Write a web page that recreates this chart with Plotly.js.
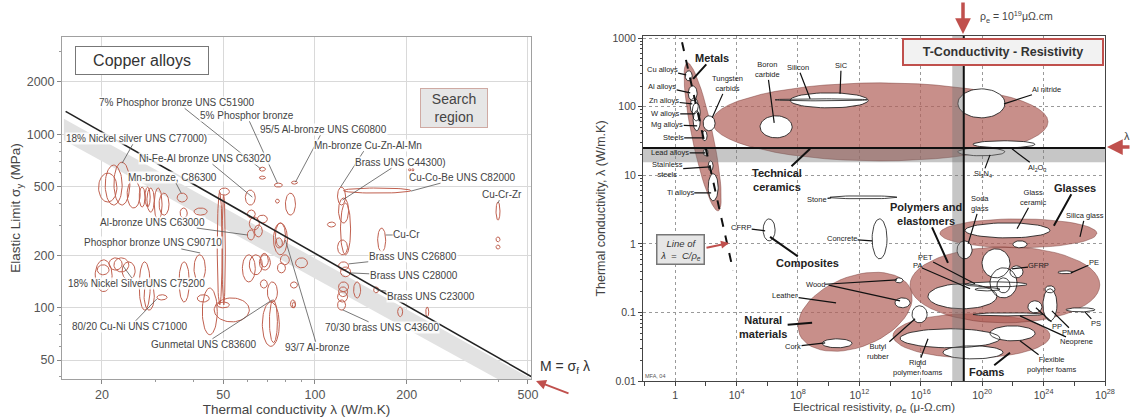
<!DOCTYPE html>
<html><head><meta charset="utf-8">
<script src="https://cdn.plot.ly/plotly-3.0.1.min.js"></script>
<style>html,body{margin:0;padding:0;background:#fff}#chart{width:1131px;height:418px}</style>
</head><body><div id="chart"></div>
<script>
// ---------------- LEFT: Copper alloys (elastic limit vs thermal conductivity) ----------------
// alloy bubbles: thermal conductivity range (W/m.K) and elastic limit range (MPa)
const cuLam0 = [19.5,20.5,21.9,24.2,26.5,27.7,28.1,29.7,30.8,35.3,36.1,40.1,48.5,47.8,49.6,59.1,65.7,65.7,73.6,83.7,74.2,80.0,60.0,64.7,60.9,60.0,63.3,74.2,74.2,40.1,19.0,19.3,21.1,21.9,23.3,26.5,27.5,30.3,35.8,41.1,42.7,47.8,46.7,57.8,60.9,65.7,75.3,77.0,66.2,69.8,67.2,70.9,84.3,118.6,119.5,121.3,118.6,124.1,203,208,392.7,392.7,392.7,160.6,109.9,86.3,83.1,83.1,119.5,121.3,119.5,119.5,118.6,118.6,133.9,155.8,186.8,231,73.1,66.2];
const cuLam1 = [22.4,23.3,24.7,26.7,27.7,28.8,29.7,31.5,33.2,38.1,38.1,44.3,52.4,49.6,50.8,63.7,68.8,68.8,78.2,87.6,76.4,86.3,63.7,69.8,65.7,63.3,67.2,80.0,78.2,43.7,21.6,21.1,23.3,24.5,25.7,28.8,29.7,32.7,38.7,45.0,47.8,52.4,60.9,63.7,67.2,71.4,80.0,82.4,69.8,75.3,76.4,75.3,86.3,126.0,128.9,130.9,127.9,206.2,206,211,404.7,404.7,404.7,170.6,116.8,94.5,87.6,86.3,128.9,130.9,128.9,127.9,127.9,126.0,141.2,161.8,194.0,236.3,81.2,70.3];
const cuSig0 = [407,391,391,376,381,381,356,320,342,407,329,342,446,104,104,391,613,551,496,516,401,342,329,308,281,246,256,224,221,141,124,155,165,161,145,97,97,111,108,108,70,100,83,141,155,165,159,177,130,108,60,63,100,391,308,202,202,458,612,612,320,240,218,210,292,170,130,100,165,151,124,116,108,97,114,122,89,89,202,172];
const cuSig1 = [597,664,690,544,496,496,490,490,458,458,376,376,490,464,446,477,646,574,523,537,423,458,366,342,333,281,300,308,253,202,189,177,194,194,184,184,141,119,184,119,130,108,114,202,202,202,181,202,145,141,108,111,108,496,429,401,246,490,638,638,407,256,230,288,312,194,141,111,184,172,141,132,124,111,141,132,101,101,308,206];
// performance index line M = sigma_f * lambda
const mIndex = 20600;
const mLineLam = [15.2, 512];
// grey search band (conductivity, elastic limit)
const bandLam = [15, 520, 520, 15];
const bandSig = [1230, 38.5, 30, 924];
// labelled alloys
const lText = ['7% Phosphor bronze UNS C51900','5% Phosphor bronze','95/5 Al-bronze UNS C60800','18% Nickel silver UNS C77000)','Mn-bronze Cu-Zn-Al-Mn','Brass UNS C44300)','Ni-Fe-Al bronze UNS C63020','Cu-Co-Be UNS C82000','Cu-Cr-Zr','Mn-bronze, C86300','Al-bronze UNS C63000','Phosphor bronze UNS C90710','18% Nickel SilverUNS C75200','80/20 Cu-Ni UNS C71000','Gunmetal UNS C83600','93/7 Al-bronze','Cu-Cr','Brass UNS C26800','Brass UNS C28000','Brass UNS C23000','70/30 brass UNS C43600'];
const lLabLam = [35.3,59.7,106.7,25.9,148.8,191.1,43.65,305.6,410.8,34.2,29.4,29.4,25.9,24.7,43.0,101.9,200,209.3,210.9,239.9,165.5];
const lLabSig = [1527,1286,1068,948,865,690,728,566,452,566,312,236.4,137.4,77.8,61.3,58.9,262.8,196.4,152.7,115.7,76.7];
const lTgtLam = [66.5,75.3,86.3,23.3,121.3,123.2,62.3,206.2,398.7,36.4,60.0,42.0,23.45,30.3,72.5,80.0,170.6,128.9,130.9,159.4,123.2];
const lTgtSig = [630,523,530,681,496,418,434.5,470,401,458,262.8,207.1,174.3,112.6,111.2,245.9,262.8,179.1,158.9,126.9,97.4];
const lXTicks = [20,50,100,200,500];
const lXMinor = [30,40,60,70,80,90,300,400];
const lYTicks = [50,100,200,500,1000,2000];
const lYMinor = [40,60,70,80,90,300,400,600,700,800,900,3000];

// ---------------- RIGHT: thermal conductivity vs electrical resistivity ----------------
// material family envelopes: centre (log10 rho, log10 lambda) and two conjugate semi-axes (decades)
const famName = ['Technical ceramics','Metals','Natural materials','Foams','Polymers and elastomers','Glasses'];
const famLogRho = [13.35,1.79,11.72,19.30,21.48,22.36];
const famLogLam = [1.778,1.56,-0.991,-1.341,-0.598,0.153];
const famARho = [10.94,-1.01,3.71,5.11,6.18,5.11];
const famALam = [0,1.079,0.160,0,0,0];
const famBRho = [0,0.67,0.326,0,0,0];
const famBLam = [0.569,0.031,0.554,0.321,0.554,0.211];
// individual materials: log10 resistivity range (muOhm.cm) and conductivity range (W/m.K)
const matName = ['Cu alloys','Al alloys','Zn alloys','W alloys','Mg alloys','Steels','Lead alloys','Stainless steels','Ti alloys','Tungsten carbides','Boron carbide','SiC','Silicon','Al nitride','Al2O3','Si3N4','Stone','Concrete','CFRP','Cork','Wood','Wood','Soda glass','Glass ceramic','Silica glass','GFRP','GFRP','GFRP','GFRP','PA','PET','PET','PE','PP','PMMA','PMMA','PS','Neoprene','Butyl rubber','Rigid polymer foams','Flexible polymer foams','Flexible polymer foams'];
const matRho0 = [0.65,0.85,0.98,1.11,1.17,1.76,1.82,2.15,2.15,1.82,5.53,7.49,6.51,18.42,19.40,18.42,10.09,12.83,5.73,9.57,14.32,14.32,18.36,18.88,22.0,19.99,20.51,21.81,20.96,16.47,18.88,19.53,24.93,22.98,23.96,24.09,25.46,19.40,15.43,14.65,17.45,20.51];
const matRho1 = [1.11,1.43,1.50,1.63,1.63,2.08,2.15,2.47,2.80,2.60,7.62,12.57,12.50,21.48,23.44,21.48,14.45,13.80,6.51,11.52,14.84,15.30,19.34,24.41,22.92,21.81,22.27,22.66,21.81,20.96,22.92,21.16,25.91,23.89,24.87,24.74,27.34,23.96,16.41,21.16,21.35,23.44];
const matLam0 = [238,122,78.5,62,44.5,31.8,19.2,11.6,4.24,44.5,35.1,96,121.6,68.7,25.1,19.2,4.53,0.604,1.106,0.0305,0.27,0.117,0.604,1.22,0.875,0.319,0.163,0.319,0.193,0.113,0.236,0.206,0.366,0.0986,0.0753,0.193,0.102,0.0891,0.0705,0.0305,0.0210,0.0385];
const matLam1 = [333,201,134.6,114,87,44.5,24.3,16.2,10.5,73.5,73.5,159,130,181.6,31.8,25.1,5.01,2.31,2.31,0.0412,0.319,0.163,1.106,2.02,1.106,0.845,0.447,0.478,0.319,0.261,0.279,0.229,0.404,0.1476,0.221,0.244,0.117,0.0986,0.125,0.0577,0.0326,0.0637];
// line lambda = C / rho_e
const cLine = 2430;
const cLineRho = [2.8, 6000];
// design limits
const rhoLimit = 10 ** 18.8;
const rhoBand = [10 ** 18.05, 10 ** 18.8];
const lamLimit = 25;
const lamBand = [15.5, 25];
// labels (positions in log10 units of the axes)
const rText = ['Metals','Cu alloys','Al alloys','Zn alloys','W alloys','Mg alloys','Steels','Lead alloys','Stainless<br>steels','Ti alloys','Tungsten<br>carbids','Boron<br>carbide','Silicon','SiC','Technical<br>ceramics','Stone','Al nitride','Al<sub>2</sub>O<sub>3</sub>','Si<sub>3</sub>N<sub>4</sub>','Glasses','Glass<br>ceramic','Soda<br>glass','Silica glass','Polymers and<br>elastomers','PET','PA','GFRP','PE','PP','PMMA','PS','Neoprene','Flexible<br>polymer foams','Foams','Rigid<br>polymer foams','Butyl<br>rubber','Cork','Natural<br>materials','Leather','Wood','Concrete','CFRP','Composites'];
const rBold = [0,14,19,23,33,37,42];
const rLabX = [2.41,-0.85,-0.85,-0.72,-0.65,-0.52,-0.13,-0.33,-0.52,0.33,3.39,5.99,8.01,10.81,6.64,9.24,24.22,23.57,20.05,26.04,23.37,19.86,26.69,16.34,16.28,15.76,23.70,27.28,24.87,25.98,27.41,26.17,24.54,20.25,15.76,13.22,7.68,5.73,7.16,9.11,10.87,4.30,8.59];
const rLabY = [2.711,2.536,2.289,2.085,1.895,1.735,1.545,1.327,1.079,0.743,2.332,2.536,2.566,2.595,0.933,0.641,2.245,1.108,1.020,0.816,0.671,0.583,0.408,0.437,-0.204,-0.321,-0.321,-0.277,-1.210,-1.297,-1.166,-1.429,-1.764,-1.866,-1.808,-1.574,-1.501,-1.210,-0.758,-0.598,0.073,0.233,-0.277];
const rTgtX = [1.17,0.72,0.98,1.11,1.24,1.43,1.82,1.95,2.28,2.34,2.41,6.45,8.79,10.74,8.79,10.16,21.42,21.94,20.51,24.67,22.27,19.08,26.37,17.77,19.53,19.21,21.94,25.78,23.50,24.54,26.69,22.46,22.46,21.81,16.47,15.63,9.77,8.92,10.48,14.45,12.83,5.86,6.18];
const rTgtY = [2.405,2.464,2.201,2.041,1.895,1.720,1.545,1.327,1.122,0.743,1.837,1.764,2.114,2.187,1.385,0.671,2.041,1.385,1.297,0.262,0.219,0,0.102,-0.277,-0.583,-0.656,-0.364,-0.423,-0.933,-0.977,-0.991,-1.050,-1.414,-1.589,-1.385,-1.093,-1.443,-1.152,-0.860,-0.525,0.044,0.190,0.102];
const rXTicks = [0,4,8,12,16,20,24,28];
const rXMinor = [-2,2,6,10,14,18,22,26];
const rYTicks = [0.01,0.1,1,10,100,1000];

// ---------------- helpers ----------------
const N = 56;
function ring(cx, cy, ax, ay, bx, by, xs, ys) {
  for (let i = 0; i <= N; i++) {
    const t = 2 * Math.PI * i / N;
    xs.push(10 ** (cx + ax * Math.cos(t) + bx * Math.sin(t)));
    ys.push(10 ** (cy + ay * Math.cos(t) + by * Math.sin(t)));
  }
  xs.push(null); ys.push(null);
}
function boxRing(lx0, lx1, ly0, ly1, xs, ys) {
  ring((lx0 + lx1) / 2, (ly0 + ly1) / 2, (lx1 - lx0) / 2, 0, 0, (ly1 - ly0) / 2, xs, ys);
}
const L = Math.log10;
const FONT = 'Liberation Sans, Arial, Helvetica, sans-serif';
const traces = [];

// left band
traces.push({x: bandLam, y: bandSig, xaxis: 'x', yaxis: 'y', mode: 'lines', fill: 'toself',
  fillcolor: '#e2e2e2', line: {width: 0}, hoverinfo: 'skip'});
// left bubbles
{
  const xs = [], ys = [];
  for (let i = 0; i < cuLam0.length; i++) boxRing(L(cuLam0[i]), L(cuLam1[i]), L(cuSig0[i]), L(cuSig1[i]), xs, ys);
  traces.push({x: xs, y: ys, xaxis: 'x', yaxis: 'y', mode: 'lines', line: {color: '#c0604f', width: 1}, hoverinfo: 'skip'});
}
// M line
traces.push({x: mLineLam, y: mLineLam.map(v => mIndex / v), xaxis: 'x', yaxis: 'y', mode: 'lines',
  line: {color: '#222', width: 1.6}, hoverinfo: 'skip'});

// right envelopes
for (let i = 0; i < famName.length; i++) {
  const xs = [], ys = [];
  ring(famLogRho[i], famLogLam[i], famARho[i], famALam[i], famBRho[i], famBLam[i], xs, ys);
  traces.push({x: xs, y: ys, xaxis: 'x2', yaxis: 'y2', mode: 'lines', fill: 'toself',
    fillcolor: 'rgba(176,96,88,0.7)', line: {color: 'rgba(110,45,40,0.7)', width: 0.6}, hoverinfo: 'skip', name: famName[i]});
}
// right materials
{
  const xs = [], ys = [];
  for (let i = 0; i < matName.length; i++) boxRing(matRho0[i], matRho1[i], L(matLam0[i]), L(matLam1[i]), xs, ys);
  traces.push({x: xs, y: ys, xaxis: 'x2', yaxis: 'y2', mode: 'lines', fill: 'toself', fillcolor: '#ffffff',
    line: {color: '#111', width: 0.8}, hoverinfo: 'skip'});
}
// grey bands
traces.push({x: [rhoBand[0], rhoBand[1], rhoBand[1], rhoBand[0]], y: [0.001, 0.001, 5000, 5000], xaxis: 'x2', yaxis: 'y2',
  mode: 'lines', fill: 'toself', fillcolor: 'rgba(120,120,120,0.42)', line: {width: 0}, hoverinfo: 'skip'});
traces.push({x: [1e-4, 1e30, 1e30, 1e-4], y: [lamBand[0], lamBand[0], lamBand[1], lamBand[1]], xaxis: 'x2', yaxis: 'y2',
  mode: 'lines', fill: 'toself', fillcolor: 'rgba(120,120,120,0.42)', line: {width: 0}, hoverinfo: 'skip'});
// limit lines
traces.push({x: [rhoLimit, rhoLimit], y: [0.001, 5000], xaxis: 'x2', yaxis: 'y2', mode: 'lines', line: {color: '#111', width: 2}, hoverinfo: 'skip'});
traces.push({x: [1e-4, 1e30], y: [lamLimit, lamLimit], xaxis: 'x2', yaxis: 'y2', mode: 'lines', line: {color: '#111', width: 2}, hoverinfo: 'skip'});
// lambda = C/rho line
traces.push({x: cLineRho, y: cLineRho.map(r => cLine / r), xaxis: 'x2', yaxis: 'y2', mode: 'lines',
  line: {color: '#111', width: 2, dash: 'dash'}, hoverinfo: 'skip'});

// ---------------- annotations ----------------
const ann = [];
const px = v => (v - 62) / 1043, py = v => (381 - v) / 345;
const C = {xanchor: 'center', yanchor: 'middle'};
for (let i = 0; i < lText.length; i++) {
  ann.push({xref: 'x', yref: 'y', axref: 'x', ayref: 'y', x: L(lTgtLam[i]), y: L(lTgtSig[i]), ax: L(lLabLam[i]), ay: L(lLabSig[i]),
    text: lText[i], showarrow: true, arrowhead: 0, arrowwidth: 0.8, arrowcolor: '#555',
    font: {size: 10, color: '#444', family: FONT}, bgcolor: 'rgba(255,255,255,0.85)', borderpad: 0});
}
for (let i = 0; i < rText.length; i++) {
  const b = rBold.includes(i);
  ann.push({xref: 'x2', yref: 'y2', axref: 'x2', ayref: 'y2', x: rTgtX[i], y: rTgtY[i], ax: rLabX[i], ay: rLabY[i],
    text: b ? '<b>' + rText[i] + '</b>' : rText[i], showarrow: true, arrowhead: 0, arrowwidth: b ? 2 : 1.2, arrowcolor: '#111',
    font: {size: b ? 11 : 7.5, color: '#222', family: FONT}, borderpad: 0});
}
// second wood leader
ann.push({xref: 'x2', yref: 'y2', axref: 'x2', ayref: 'y2', x: 14.65, y: -0.831, ax: 9.9, ay: -0.598, text: '', showarrow: true,
  arrowhead: 0, arrowwidth: 1.2, arrowcolor: '#111'});
ann.push(Object.assign({xref: 'paper', yref: 'paper', x: px(141.5), y: py(60.5), text: 'Copper alloys', showarrow: false,
  font: {size: 16, color: '#333', family: FONT}, bgcolor: '#fff', bordercolor: '#777', borderwidth: 1, borderpad: 4, width: 124, height: 19}, C));
ann.push(Object.assign({xref: 'paper', yref: 'paper', x: px(453.5), y: py(107.5), text: 'Search<br>region', showarrow: false,
  font: {size: 14, color: '#444', family: FONT}, bgcolor: '#e6e6e6', bordercolor: '#cfaaa3', borderwidth: 1, borderpad: 2, width: 62}, C));
ann.push(Object.assign({xref: 'paper', yref: 'paper', x: px(565), y: py(367), text: 'M = σ<sub>f</sub> λ', showarrow: false,
  font: {size: 14, color: '#333', family: FONT}}, C));
ann.push({xref: 'paper', yref: 'paper', x: px(536), y: py(381), ax: 34, ay: 13, text: '', showarrow: true,
  arrowhead: 2, arrowsize: 1, arrowwidth: 2, arrowcolor: '#c0504d'});
ann.push(Object.assign({xref: 'paper', yref: 'paper', x: px(1002.5), y: py(52.5), text: '<b>T-Conductivity - Resistivity</b>', showarrow: false,
  font: {size: 12.5, color: '#333', family: FONT}, bgcolor: '#f2f2f2', bordercolor: '#c0504d', borderwidth: 2, borderpad: 3, width: 192, height: 18}, C));
ann.push(Object.assign({xref: 'paper', yref: 'paper', x: px(1016), y: py(17), text: 'ρ<sub>e</sub> = 10<sup>19</sup>μΩ.cm', showarrow: false,
  font: {size: 10.5, color: '#444', family: FONT}}, C));
ann.push({xref: 'paper', yref: 'paper', x: px(963), y: py(34), ax: 0, ay: -33, text: '', showarrow: true,
  arrowhead: 2, arrowsize: 0.9, arrowwidth: 3.5, arrowcolor: '#c0504d'});
ann.push({xref: 'paper', yref: 'paper', x: px(1107), y: py(147), ax: 28, ay: 0, text: '', showarrow: true,
  arrowhead: 2, arrowsize: 0.9, arrowwidth: 3.5, arrowcolor: '#c0504d'});
ann.push(Object.assign({xref: 'paper', yref: 'paper', x: px(1127), y: py(136), text: 'λ', showarrow: false, font: {size: 11, color: '#444', family: FONT}}, C));
ann.push(Object.assign({xref: 'paper', yref: 'paper', x: px(680), y: py(249.5), text: '<i>Line of</i><br><i>λ  =  C/ρ<sub>e</sub></i>', showarrow: false,
  font: {size: 9.5, color: '#333', family: FONT}, bgcolor: '#e6e6e6', bordercolor: '#777', borderwidth: 1.5, borderpad: 2, width: 42}, C));
ann.push({xref: 'paper', yref: 'paper', x: px(729), y: py(243), ax: -24, ay: 5, text: '', showarrow: true,
  arrowhead: 2, arrowsize: 0.8, arrowwidth: 2, arrowcolor: '#c0504d'});
ann.push(Object.assign({xref: 'paper', yref: 'paper', x: px(655), y: py(376), text: 'MFA, 04', showarrow: false, font: {size: 5.5, color: '#555', family: FONT}}, C));

const leftAxisBase = {type: 'log', showline: true, mirror: true, linecolor: '#a0a0a0', gridcolor: '#d9d9d9', zeroline: false,
  ticks: 'outside', ticklen: 4, tickcolor: '#888', tickfont: {size: 12.5, color: '#555', family: FONT}};
const layout = {
  width: 1131, height: 418, margin: {l: 62, r: 26, t: 36, b: 37}, showlegend: false, hovermode: false,
  paper_bgcolor: '#fff', plot_bgcolor: '#fff', font: {family: FONT, color: '#333'},
  xaxis: Object.assign({}, leftAxisBase, {domain: [0, 0.4497], range: [1.17, 2.709], anchor: 'y',
    tickvals: lXTicks, ticktext: lXTicks.map(String),
    minor: {tickvals: lXMinor, ticks: 'outside', ticklen: 2.5, tickcolor: '#999', showgrid: false},
    title: {text: 'Thermal conductivity λ (W/m.K)', font: {size: 13.5, color: '#444', family: FONT}, standoff: 3}}),
  yaxis: Object.assign({}, leftAxisBase, {domain: [0.0058, 0.997], range: [1.59, 3.56], anchor: 'x',
    tickvals: lYTicks, ticktext: lYTicks.map(String),
    minor: {tickvals: lYMinor, ticks: 'outside', ticklen: 2.5, tickcolor: '#999', showgrid: false},
    title: {text: 'Elastic Limit σ<sub>y</sub> (MPa)', font: {size: 13.5, color: '#444', family: FONT}, standoff: 2}}),
  xaxis2: {type: 'log', domain: [0.557, 1], range: [-2.1, 28], anchor: 'y2', showline: true, mirror: true, linecolor: '#444',
    gridcolor: '#9a9a9a', griddash: 'dot', zeroline: false, ticks: 'outside', ticklen: 4, tickcolor: '#444',
    tickvals: rXTicks.map(e => 10 ** e), ticktext: rXTicks.map(e => e === 0 ? '1' : '10<sup>' + e + '</sup>'),
    tickfont: {size: 10.5, color: '#444', family: FONT},
    minor: {tickvals: rXMinor.map(e => 10 ** e), ticks: 'outside', ticklen: 4, tickcolor: '#444', showgrid: false},
    title: {text: 'Electrical resistivity, ρ<sub>e</sub> (μ-Ω.cm)', font: {size: 11.5, color: '#444', family: FONT}, standoff: 2}},
  yaxis2: {type: 'log', domain: [0, 1], range: [-2, 3.03], anchor: 'x2', showline: true, mirror: true, linecolor: '#444',
    gridcolor: '#9a9a9a', griddash: 'dot', zeroline: false, ticks: 'outside', ticklen: 4, tickcolor: '#444',
    tickvals: rYTicks, ticktext: rYTicks.map(String), tickfont: {size: 10.5, color: '#444', family: FONT},
    minor: {tickvals: [0.02,0.03,0.04,0.05,0.06,0.07,0.08,0.09,0.2,0.3,0.4,0.5,0.6,0.7,0.8,0.9,2,3,4,5,6,7,8,9,20,30,40,50,60,70,80,90,200,300,400,500,600,700,800,900],
      ticks: 'outside', ticklen: 2, tickcolor: '#444', showgrid: false},
    title: {text: 'Thermal conductivity, λ (W/m.K)', font: {size: 12.5, color: '#444', family: FONT}, standoff: 4}},
  annotations: ann
};
Plotly.newPlot('chart', traces, layout, {staticPlot: true, displayModeBar: false});
</script></body></html>
